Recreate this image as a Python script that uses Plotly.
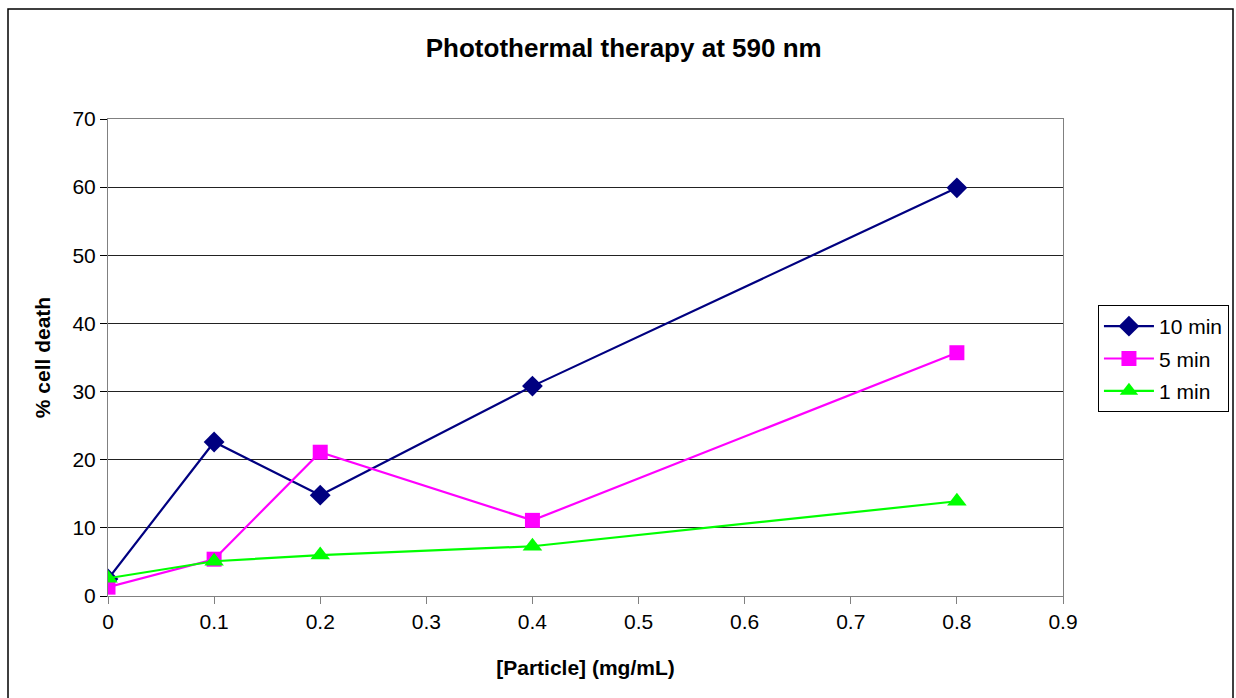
import plotly.graph_objects as go

x_vals = [0, 0.1, 0.2, 0.4, 0.8]
ten_min = [2.5, 22.6, 14.8, 30.8, 59.9]
five_min = [1.3, 5.4, 21.1, 11.1, 35.7]
one_min = [2.6, 5.1, 6.0, 7.3, 13.9]
series_names = ["10 min", "5 min", "1 min"]

FONT = "Liberation Sans, Arial, sans-serif"

fig = go.Figure()
fig.add_trace(go.Scatter(x=x_vals, y=ten_min, name=series_names[0], mode="lines+markers",
                         legendgroup="a",
                         line=dict(color="#000080", width=2.2),
                         marker=dict(symbol="diamond", size=16, color="#000080")))
fig.add_trace(go.Scatter(x=x_vals, y=five_min, name=series_names[1], mode="lines+markers",
                         legendgroup="b",
                         line=dict(color="#FF00FF", width=2.2),
                         marker=dict(symbol="square", size=15, color="#FF00FF")))
fig.add_trace(go.Scatter(x=x_vals, y=one_min, name=series_names[2], mode="lines+markers",
                         legendgroup="c",
                         line=dict(color="#00FF00", width=2.2),
                         marker=dict(symbol="triangle-up", size=17, color="#00FF00")))

fig.update_layout(
    width=1236, height=698,
    margin=dict(l=108, r=173, t=119, b=102, autoexpand=False),
    paper_bgcolor="white", plot_bgcolor="white",
    font=dict(family=FONT, size=21, color="black"),
    title=dict(text="<b>Photothermal therapy at 590 nm</b>", x=0.54, xref="paper",
               xanchor="center", y=1 - 48 / 698, yanchor="middle",
               font=dict(size=26, family=FONT)),
    xaxis=dict(range=[0, 0.9], dtick=0.1, tick0=0, showgrid=False, zeroline=False,
               ticks="outside", ticklen=7, tickcolor="#808080",
               showline=True, linecolor="#808080", linewidth=1, mirror=True,
               tickformat="~g",
               title=dict(text="<b>[Particle] (mg/mL)</b>", font=dict(size=21), standoff=28)),
    yaxis=dict(range=[0, 70], dtick=10, showgrid=True, gridcolor="#222222", gridwidth=1,
               zeroline=False, ticks="outside", ticklen=7, tickcolor="black",
               showline=True, linecolor="#808080", linewidth=1, mirror=True,
               title=dict(text="<b>% cell death</b>", font=dict(size=21), standoff=16)),
    legend=dict(x=1.0366, y=0.61, xanchor="left", yanchor="top",
                bordercolor="black", borderwidth=1, bgcolor="white",
                font=dict(size=21), itemwidth=50, tracegroupgap=2),
    showlegend=True,
)

# outer chart border
fig.add_shape(type="rect", xref="paper", yref="paper",
              x0=(8 - 108) / 955, x1=(1233 - 108) / 955,
              y0=-0.3, y1=1 + (119 - 9) / 477,
              line=dict(color="black", width=1.5), fillcolor="rgba(0,0,0,0)", layer="below")

fig.write_html("out.html")
